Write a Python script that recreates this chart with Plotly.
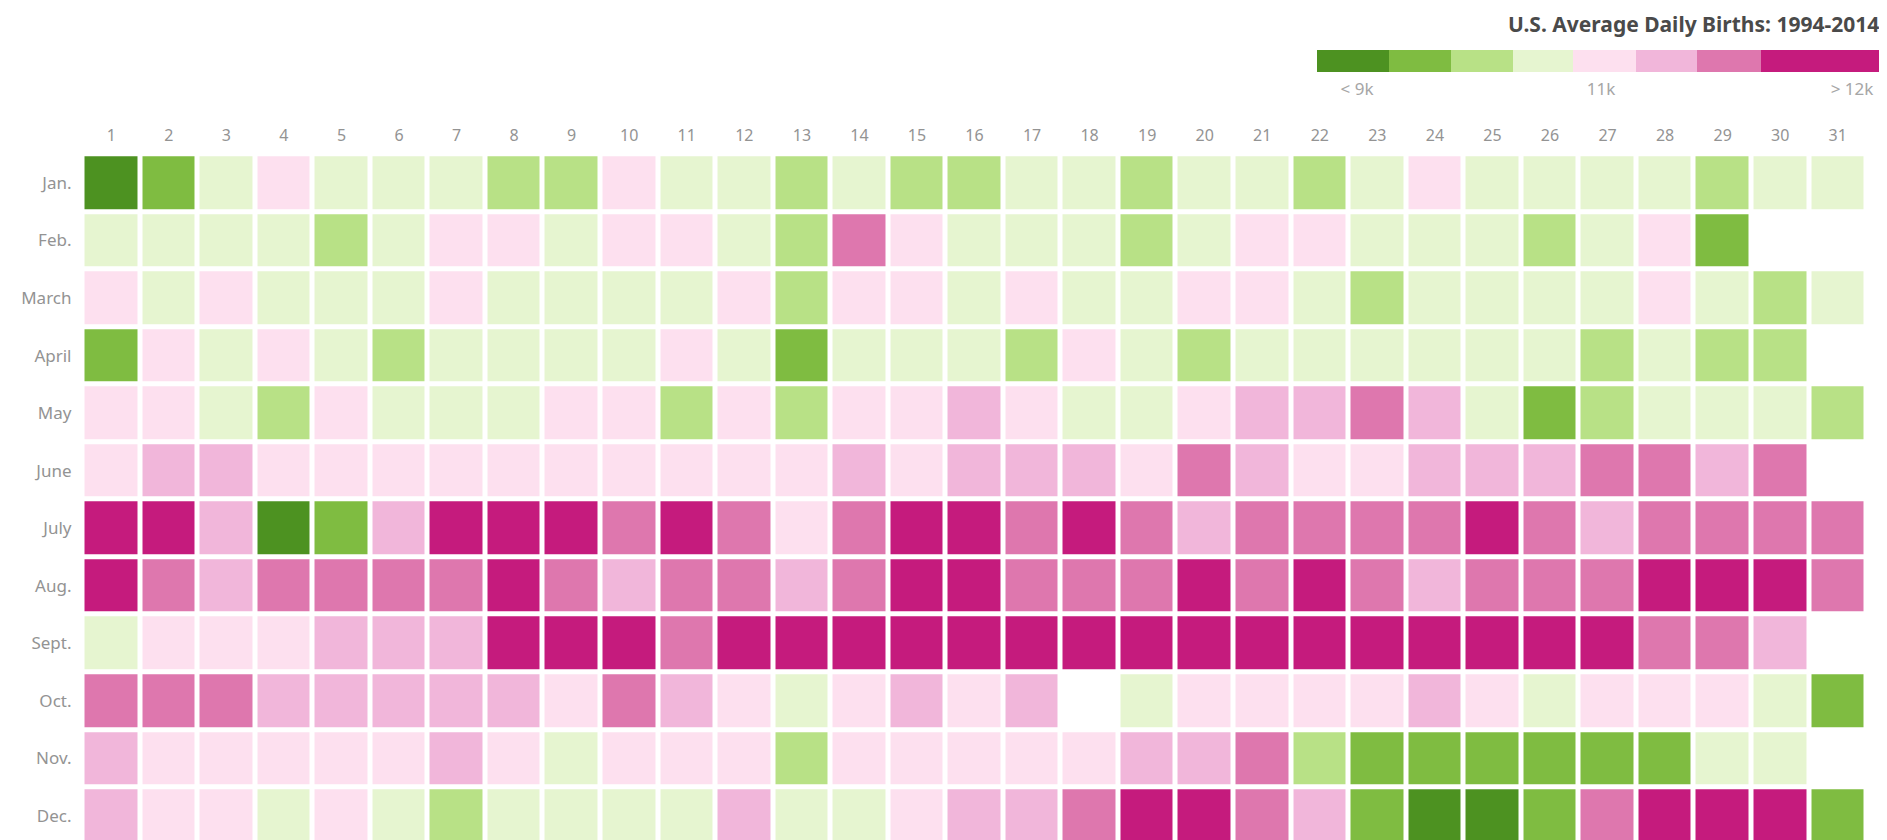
import plotly.graph_objects as go

# ---------------- data ----------------
days = list(range(1, 32))
months = ["Jan.", "Feb.", "March", "April", "May", "June",
          "July", "Aug.", "Sept.", "Oct.", "Nov.", "Dec."]
# 8 classes of average daily births, low -> high
class_colors = ["#4d9221", "#7fbc41", "#b8e186", "#e6f5d0",
                "#fde0ef", "#f1b6da", "#de77ae", "#c51b7d"]
legend_labels = ["< 9k", "11k", "> 12k"]

N = None
jan = [0,1,3,4,3,3,3,2,2,4,3,3,2,3,2,2,3,3,2,3,3,2,3,4,3,3,3,3,2,3,3]
feb = [3,3,3,3,2,3,4,4,3,4,4,3,2,6,4,3,3,3,2,3,4,4,3,3,3,2,3,4,1,N,N]
mar = [4,3,4,3,3,3,4,3,3,3,3,4,2,4,4,3,4,3,3,4,4,3,2,3,3,3,3,4,3,2,3]
apr = [1,4,3,4,3,2,3,3,3,3,4,3,1,3,3,3,2,4,3,2,3,3,3,3,3,3,2,3,2,2,N]
may = [4,4,3,2,4,3,3,3,4,4,2,4,2,4,4,5,4,3,3,4,5,5,6,5,3,1,2,3,3,3,2]
jun = [4,5,5,4,4,4,4,4,4,4,4,4,4,5,4,5,5,5,4,6,5,4,4,5,5,5,6,6,5,6,N]
jul = [7,7,5,0,1,5,7,7,7,6,7,6,4,6,7,7,6,7,6,5,6,6,6,6,7,6,5,6,6,6,6]
aug = [7,6,5,6,6,6,6,7,6,5,6,6,5,6,7,7,6,6,6,7,6,7,6,5,6,6,6,7,7,7,6]
sep = [3,4,4,4,5,5,5,7,7,7,6,7,7,7,7,7,7,7,7,7,7,7,7,7,7,7,7,6,6,5,N]
octo = [6,6,6,5,5,5,5,5,4,6,5,4,3,4,5,4,5,N,3,4,4,4,4,5,4,3,4,4,4,3,1]
nov = [5,4,4,4,4,4,5,4,3,4,4,4,2,4,4,4,4,4,5,5,6,2,1,1,1,1,1,1,3,3,N]
dec = [5,4,4,3,4,3,2,3,3,3,3,5,3,3,4,5,5,6,7,7,6,5,1,0,0,1,6,7,7,7,1]

z = [jan, feb, mar, apr, may, jun, jul, aug, sep, octo, nov, dec]

# ---------------- layout parameters (pixels, page body has 8px margin) ----------------
W, H = 1879, 832
pitch = 57.55
grid_left = 74.5
grid_top = 146.2
area_right = 1876
leg_left, leg_right = 1309, 1876
leg_top, leg_bottom = 42, 64
leg_widths = [72, 62, 62, 60, 63, 61, 64, 123]
leg_tickvals = [40, 284, 535]

n = len(class_colors)
colorscale = []
for k, c in enumerate(class_colors):
    colorscale.append([k / n, c])
    colorscale.append([(k + 1) / n, c])

x_span = (area_right - grid_left) / pitch
y_span = (H - grid_top) / pitch

fig = go.Figure()

fig.add_trace(go.Heatmap(
    z=z, x=days, y=list(range(len(months))),
    colorscale=colorscale, zmin=-0.5, zmax=n - 0.5,
    xgap=5, ygap=5, showscale=False,
    hovertemplate="%{y} %{x}<extra></extra>",
))

# legend bar as a second heatmap
edges = [0]
for w in leg_widths:
    edges.append(edges[-1] + w)

fig.add_trace(go.Heatmap(
    z=[list(range(n))], x=edges, y=[0],
    colorscale=colorscale, zmin=-0.5, zmax=n - 0.5,
    showscale=False, xaxis="x2", yaxis="y2", hoverinfo="skip",
))

label_color = "#939393"

fig.update_layout(
    width=W, height=H,
    margin=dict(l=0, r=0, t=0, b=0),
    paper_bgcolor="white", plot_bgcolor="white",
    showlegend=False,
    xaxis=dict(
        domain=[grid_left / W, area_right / W],
        range=[0.5, 0.5 + x_span],
        side="top", tickvals=days, ticktext=[str(d) for d in days],
        showgrid=False, zeroline=False, showline=False, ticks="",
        tickfont=dict(family="Noto Sans", size=16, color=label_color),
        ticklabelstandoff=9, fixedrange=True,
    ),
    yaxis=dict(
        domain=[0, 1 - grid_top / H],
        range=[-0.5 + y_span, -0.5],
        tickvals=list(range(len(months))), ticktext=months,
        showgrid=False, zeroline=False, showline=False, ticks="",
        tickfont=dict(family="Noto Sans", size=17, color=label_color),
        ticklabelstandoff=10, fixedrange=True,
    ),
    xaxis2=dict(
        domain=[leg_left / W, leg_right / W], range=[0, edges[-1]],
        anchor="y2", tickvals=leg_tickvals, ticktext=legend_labels,
        showgrid=False, zeroline=False, showline=False, ticks="",
        tickfont=dict(family="Noto Sans", size=17, color="#a6a6a6"),
        ticklabelstandoff=5, fixedrange=True,
    ),
    yaxis2=dict(
        domain=[1 - leg_bottom / H, 1 - leg_top / H], range=[-0.5, 0.5],
        anchor="x2", showticklabels=False, showgrid=False,
        zeroline=False, showline=False, ticks="", fixedrange=True,
    ),
    annotations=[dict(
        text="U.S. Average Daily Births: 1994-2014",
        xref="paper", yref="paper", x=1873 / W, y=1,
        xanchor="right", yanchor="top", showarrow=False,
        font=dict(family="Noto Sans", size=21, color="#4a4a4a", weight="bold"),
    )],
)

fig.write_html("out.html", config={"displayModeBar": False})
